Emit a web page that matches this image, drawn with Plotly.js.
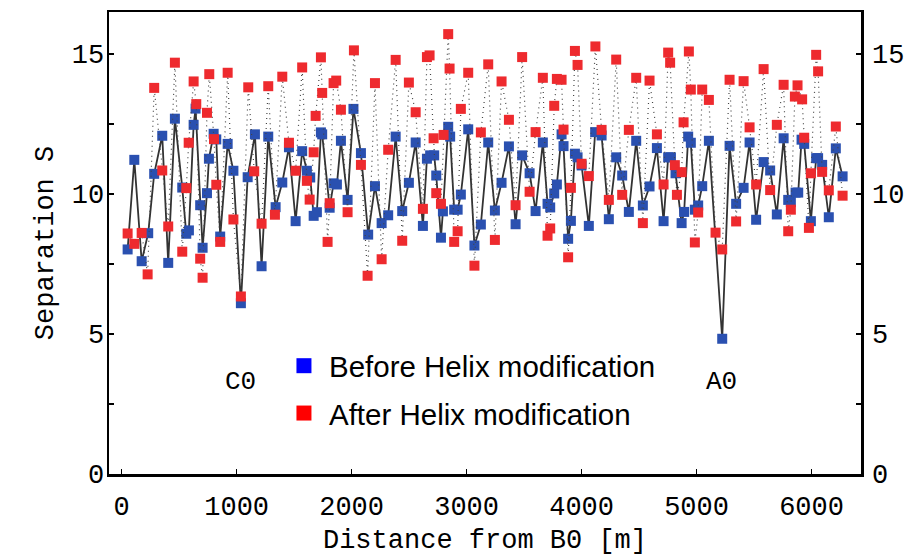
<!DOCTYPE html>
<html>
<head>
<meta charset="utf-8">
<script src="https://cdn.plot.ly/plotly-3.0.1.min.js"></script>
<style>html,body{margin:0;padding:0;background:#fff;}#chart{width:923px;height:556px;}</style>
</head>
<body>
<div id="chart"></div>
<script>
// Distance from B0 [m] and separation S, before helix modification (blue)
const beforeX = [52,110,174,231,283,353,405,463,527,562,585,626,643,683,704,742,759,800,823,857,
  922,972,1037,1096,1159,1217,1275,1339,1397,1455,1513,1570,1611,1640,1670,1698,1733,1744,1809,1843,
  1872,1907,1965,2016,2081,2144,2203,2261,2318,2383,2440,2498,2557,2620,2655,2683,2718,2736,2777,2794,
  2840,2857,2892,2922,2950,3014,3068,3124,3188,3246,3304,3368,3426,3483,3548,3600,3663,3704,3727,3762,
  3785,3826,3843,3883,3907,3942,3965,4000,4063,4118,4174,4237,4301,4353,4411,4475,4533,4591,4655,4713,
  4753,4777,4817,4870,4892,4927,4950,4985,5014,5049,5107,5223,5287,5344,5409,5461,5518,5583,5640,5698,
  5757,5797,5820,5861,5884,5913,5936,5994,6040,6057,6092,6150,6211,6270];
const beforeS = [8.02,11.22,7.60,8.60,10.72,12.08,7.54,12.69,10.23,8.58,8.70,12.47,13.05,9.60,8.08,10.03,11.26,12.15,11.95,8.48,
  11.79,10.83,6.10,10.60,12.13,7.42,12.05,9.53,10.41,11.67,9.03,11.53,10.83,10.59,9.22,9.35,12.20,12.13,9.51,10.38,
  10.34,11.90,9.79,13.04,11.46,8.55,10.28,8.96,9.24,12.05,9.39,10.40,11.84,8.86,11.26,11.38,11.38,10.66,8.44,9.38,
  12.40,12.05,9.44,9.44,9.98,12.31,8.16,8.91,11.84,9.41,10.40,11.70,8.92,11.38,10.74,9.39,11.84,9.65,9.52,10.02,
  10.34,12.13,11.71,8.40,9.04,11.44,11.31,11.02,8.86,12.21,12.09,9.10,11.31,10.66,9.36,11.90,9.59,10.27,11.64,9.03,
  11.31,11.31,10.74,8.96,9.36,12.05,11.83,9.44,9.59,10.28,11.90,4.83,11.72,9.65,10.22,11.84,9.08,11.14,10.84,9.27,
  11.99,9.79,9.71,10.05,10.05,11.94,11.79,9.03,11.28,11.28,11.04,9.17,11.63,10.63];

// After helix modification (red)
const afterX = [52,110,174,226,283,353,405,463,527,562,583,626,649,683,704,742,762,803,823,857,
  922,972,1037,1101,1153,1217,1275,1333,1397,1455,1513,1570,1611,1635,1670,1687,1733,1744,1791,1809,
  1843,1866,1907,1965,2020,2081,2139,2203,2261,2318,2383,2440,2498,2557,2620,2655,2678,2713,2736,2777,
  2800,2840,2852,2892,2922,2950,3014,3068,3124,3188,3246,3304,3368,3426,3483,3548,3600,3663,3704,3727,
  3762,3785,3826,3843,3883,3907,3942,3965,4000,4063,4120,4174,4237,4301,4353,4411,4475,4533,4591,4655,
  4713,4753,4770,4811,4829,4870,4887,4933,4950,4985,5014,5049,5107,5165,5223,5287,5344,5409,5461,5518,
  5583,5640,5698,5757,5797,5820,5855,5878,5918,5936,5977,5994,6040,6057,6092,6150,6211,6270];
const afterS = [8.59,8.22,8.61,7.13,13.79,10.84,8.84,14.69,7.94,10.21,11.83,14.02,13.21,7.69,7.01,12.90,14.28,11.96,10.33,8.29,
  14.33,9.09,6.34,13.81,10.81,8.94,13.85,9.26,14.19,11.83,10.83,14.52,10.47,9.80,11.49,12.79,14.88,13.61,8.29,9.67,
  13.96,14.05,13.01,9.35,15.13,11.04,7.08,13.96,7.67,11.58,14.79,8.33,13.98,12.92,9.47,14.89,14.95,11.99,10.03,9.65,
  12.11,15.71,14.48,8.29,8.67,13.04,14.33,7.44,12.20,14.63,8.36,14.02,12.65,9.60,14.89,10.08,12.21,14.15,8.51,8.77,
  13.15,14.11,14.08,12.30,7.74,10.22,15.11,14.61,11.08,10.64,15.27,12.29,9.79,14.80,9.97,12.29,14.15,8.96,14.05,12.13,
  10.34,15.05,14.69,11.03,9.97,10.78,12.56,15.09,13.73,8.27,9.34,13.73,13.36,8.62,8.02,14.08,9.02,14.03,12.38,10.34,
  14.46,10.14,12.47,13.90,8.67,9.44,13.48,13.88,13.38,12.01,8.79,10.74,14.97,14.38,10.79,10.13,12.41,9.94];

const xTicks = [0,1000,2000,3000,4000,5000,6000];
const yTicks = [0,5,10,15];
const seriesNames = ['Before Helix modification','After Helix modification'];
const siteLabels = [{text:'C0', x:1037, y:3.3},{text:'A0', x:5220, y:3.3}];

const mono = 'Courier New, Liberation Mono, monospace';
const sans = 'Arial, Liberation Sans, sans-serif';

const traces = [
  {x: beforeX, y: beforeS, type:'scatter', mode:'lines+markers', showlegend:false,
   line:{color:'#333333', width:1.8},
   marker:{symbol:'square', size:10, color:'#2a50b0', line:{width:0}}},
  {x: afterX, y: afterS, type:'scatter', mode:'lines+markers', showlegend:false,
   line:{color:'#444444', width:1.2, dash:'1px,4px'},
   marker:{symbol:'square', size:10, color:'#ee2a2e', line:{width:0}}},
  {x:[null], y:[null], type:'scatter', mode:'markers', name:seriesNames[0], legendgroup:'a',
   marker:{symbol:'square', size:15, color:'#0000ff'}},
  {x:[null], y:[null], type:'scatter', mode:'markers', name:seriesNames[1], legendgroup:'b',
   marker:{symbol:'square', size:15, color:'#ff0000'}},
  {x:[], y:[], type:'scatter', yaxis:'y2', showlegend:false, hoverinfo:'skip'}
];

const layout = {
  width:923, height:556,
  margin:{l:109, r:62, t:12, b:82},
  paper_bgcolor:'#ffffff', plot_bgcolor:'#ffffff',
  showlegend:true,
  legend:{x:0.226, xanchor:'left', y:0.29, yanchor:'top', bgcolor:'rgba(0,0,0,0)',
    font:{family:sans, size:29.5, color:'#000'}, itemwidth:40, tracegroupgap:6, itemsizing:'trace'},
  xaxis:{range:[-110,6430], tickvals:xTicks, ticktext:xTicks.map(String), ticks:'inside', ticklen:5, tickwidth:1.5,
    tickcolor:'#000', showline:true, linewidth:2.5, linecolor:'#000', mirror:true, showgrid:false, zeroline:false,
    tickfont:{family:mono, size:27, color:'#000'}, ticklabelstandoff:6,
    title:{text:'Distance from B0 [m]', font:{family:mono, size:27, color:'#000'}, standoff:8}},
  yaxis:{range:[0,16.5], tickvals:yTicks, ticktext:yTicks.map(String), ticks:'inside', ticklen:5, tickwidth:1.5,
    tickcolor:'#000', minor:{dtick:2.5, ticks:'inside', ticklen:5, tickwidth:1.5, tickcolor:'#000', showgrid:false},
    showline:true, linewidth:2.5, linecolor:'#000', mirror:'ticks', showgrid:false, zeroline:false,
    tickfont:{family:mono, size:27, color:'#000'}, ticklabelstandoff:-3,
    title:{text:'Separation S', font:{family:mono, size:27, color:'#000'}, standoff:10}},
  yaxis2:{range:[0,16.5], overlaying:'y', side:'right', tickvals:yTicks, ticktext:yTicks.map(String), ticks:'',
    showline:false, showgrid:false, zeroline:false, tickfont:{family:mono, size:27, color:'#000'}, ticklabelstandoff:10},
  annotations: siteLabels.map(s => ({x:s.x, y:s.y, xref:'x', yref:'y', text:s.text, showarrow:false,
    font:{family:mono, size:26, color:'#000'}}))
};

Plotly.newPlot('chart', traces, layout, {staticPlot:true, displayModeBar:false});
</script>
</body>
</html>
